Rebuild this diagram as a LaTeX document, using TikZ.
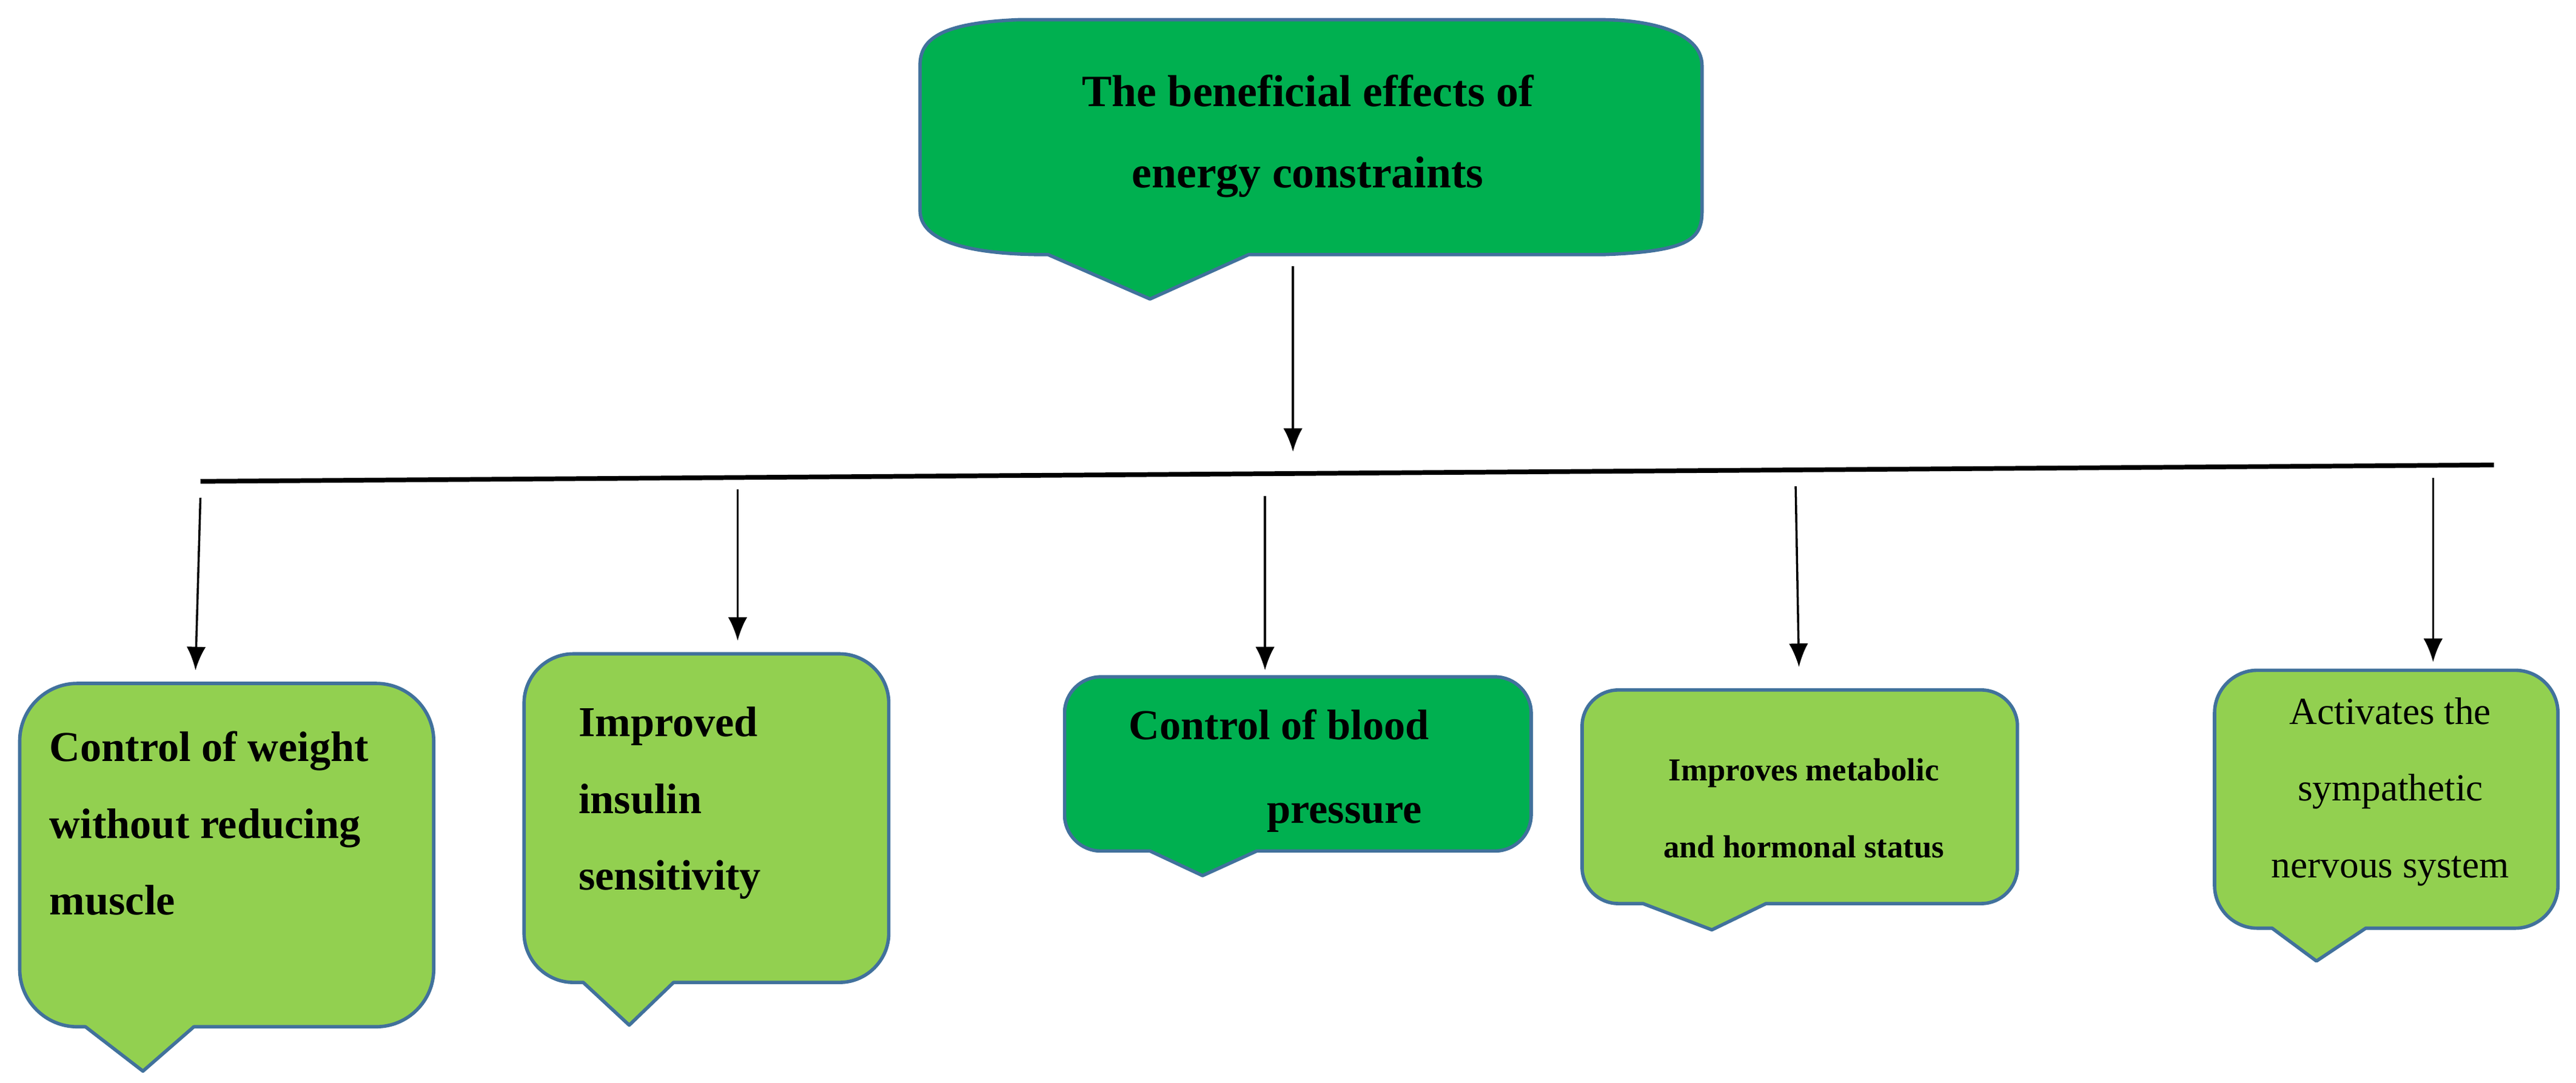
\documentclass[tikz,border=0pt]{standalone}
\usepackage{fontspec}
\setmainfont{Liberation Serif}
\usetikzlibrary{arrows.meta}
\begin{document}
\begin{tikzpicture}[x=0.02709cm,y=-0.02709cm,
  bord/.style={draw={rgb,255:red,65;green,113;blue,156},line width=1.6pt,line join=round},
  arr/.style={-{Latex[length=11pt,width=9pt]},line width=1pt},
  bt/.style={font=\bfseries\fontsize{20pt}{36pt}\selectfont,align=left,anchor=north west,inner sep=0}]
\definecolor{dg}{RGB}{0,176,80}
\definecolor{lg}{RGB}{146,208,80}
\useasboundingbox (0,0) rectangle (1568,659);
% callout macro: x1,y1,x2,y2,r,pa,pb,tip,pc ; colour in \cfill
\newcommand\mycallout[9]{%
 \path[bord,fill=\cfill] (#1,{#2+#5}) -- (#1,{#4-#5}) .. controls (#1,{#4-.45*#5}) and ({#1+.45*#5},#4) .. ({#1+#5},#4)
  -- (#6,#4) -- (#7,#8) -- (#9,#4) -- ({#3-#5},#4) .. controls ({#3-.45*#5},#4) and (#3,{#4-.45*#5}) .. (#3,{#4-#5})
  -- (#3,{#2+#5}) .. controls (#3,{#2+.45*#5}) and ({#3-.45*#5},#2) .. ({#3-#5},#2)
  -- ({#1+#5},#2) .. controls ({#1+.45*#5},#2) and (#1,{#2+.45*#5}) .. cycle;}
% top box
\path[bord,fill=dg] (560,40) -- (560,128) .. controls (560,150) and (600,155) .. (638,155) -- (700,182) -- (760,155) -- (975,155)
  .. controls (1030,153) and (1036,145) .. (1036,128) -- (1036,40) .. controls (1036,18) and (1000,12) .. (975,12)
  -- (620,12) .. controls (570,14) and (560,25) .. (560,40) -- cycle;
\node[font=\bfseries\fontsize{21pt}{38pt}\selectfont,align=center] (top) at (796,83) {The beneficial effects of\\energy constraints};
\def\cfill{lg}
\mycallout{12}{416}{264}{625}{35}{52}{87}{652}{118}
\mycallout{319}{398}{541}{598}{30}{355}{383}{624}{410}
\def\cfill{dg}
\mycallout{648}{412}{932}{518}{22}{700}{732}{533}{765}
\def\cfill{lg}
\mycallout{963}{420}{1228}{550}{22}{1000}{1042}{566}{1075}
\mycallout{1348}{408}{1557}{565}{26}{1383}{1410}{585}{1440}
\node[bt] (b1) at (30,445) {Control of weight\\without reducing\\muscle};
\node[bt] (b2) at (352,430) {Improved\\insulin\\sensitivity};
\node[bt,anchor=base west] (b3a) at (687,450) {Control of blood};
\node[bt,anchor=base west] (b3b) at (771,501) {pressure};
\node[font=\bfseries\fontsize{15pt}{36pt}\selectfont,align=center] (b4) at (1098,492) {Improves metabolic\\and hormonal status};
\node[font=\fontsize{18pt}{36pt}\selectfont,align=center] (b5) at (1455,482) {Activates the\\sympathetic\\nervous system};
% bar
\coordinate (L) at (122,293); \coordinate (R) at (1518,283);
\draw[line width=2.2pt] (L) -- (R);
\coordinate (t0) at (787,162); \coordinate (h0) at (787,275);
\draw[arr] (t0) -- (h0);
\coordinate (t1) at (122,303); \coordinate (h1) at (119,408);
\coordinate (t2) at (449,298); \coordinate (h2) at (449,390);
\coordinate (t3) at (770,302); \coordinate (h3) at (770,408);
\coordinate (t4) at (1093,296); \coordinate (h4) at (1095,406);
\coordinate (t5) at (1481,291); \coordinate (h5) at (1481,403);
\foreach \i in {1,...,5} \draw[arr] (t\i) -- (h\i);
\end{tikzpicture}
\end{document}
